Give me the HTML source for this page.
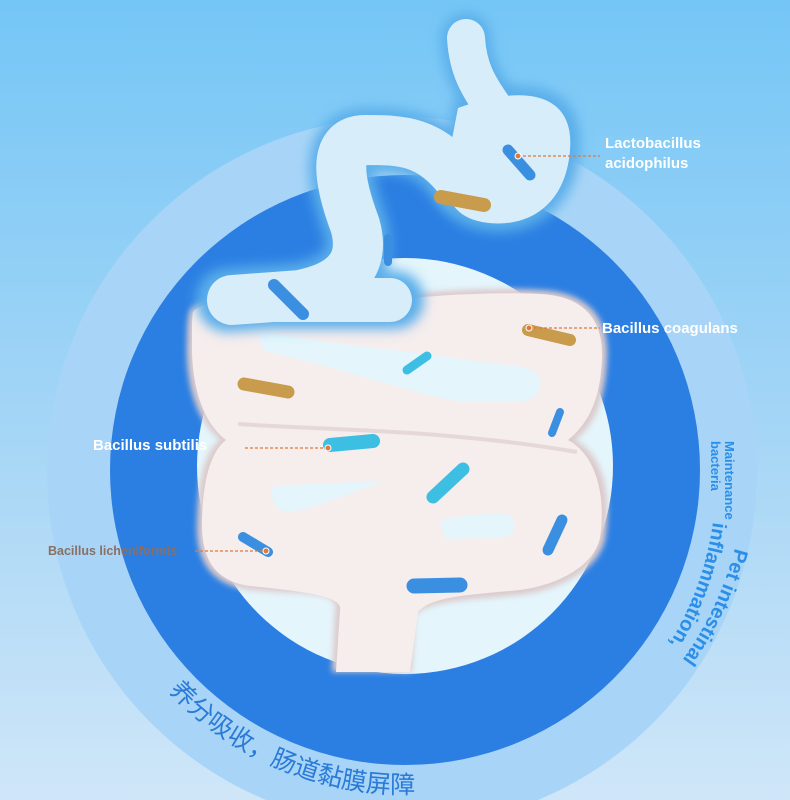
<!DOCTYPE html>
<html><head><meta charset="utf-8"><style>
html,body{margin:0;padding:0}
body{width:790px;height:800px;overflow:hidden;background:linear-gradient(180deg,#74c6f6 0%,#a6d6f6 55%,#cfe6f8 100%);}
svg{display:block}
</style></head><body>
<svg width="790" height="800" viewBox="0 0 790 800" xmlns="http://www.w3.org/2000/svg">
<defs>
<filter id="blur6" x="-20%" y="-20%" width="140%" height="140%"><feGaussianBlur stdDeviation="6"/></filter>
<filter id="blur3" x="-20%" y="-20%" width="140%" height="140%"><feGaussianBlur stdDeviation="3"/></filter>
<path id="arcCn" d="M 166 688 A 322 322 0 0 0 520 772"/>
<path id="arcPet1" d="M 735 548 A 334 334 0 0 1 600 740"/>
<path id="arcPet2" d="M 713 522 A 313 313 0 0 1 590 730"/>
</defs>
<circle cx="402" cy="472" r="355" fill="#a8d5f7"/>
<circle cx="405" cy="470" r="295" fill="#2b7fe2"/>
<circle cx="405" cy="466" r="208" fill="#e4f5fb"/>

<!-- intestine -->
<path d="M190,310 C200,295 250,295 270,312 C350,300 450,285 540,290 C590,292 610,320 607,360 C605,400 595,425 575,440 C605,455 612,500 605,540 C598,570 560,590 520,595 C470,600 430,600 415,615 L412,672 L332,672 L335,610 C340,590 300,595 250,590 C210,585 195,560 197,520 C198,480 205,450 220,440 C195,420 185,380 187,340 C187,325 188,315 190,310 Z" fill="#dccbcc" filter="url(#blur3)"/>
<path d="M193,312 C203,299 250,299 270,316 C350,304 450,290 540,294 C586,296 604,322 602,360 C600,398 590,422 568,440 C598,456 606,500 600,538 C594,566 558,585 520,590 C470,595 432,596 418,612 L410,672 L336,672 L340,610 C344,596 300,591 250,586 C214,581 201,558 202,520 C203,482 210,452 226,440 C200,420 191,380 192,340 C192,326 192,318 193,312 Z" fill="#f6eded"/>
<g fill="#e4f5fb">
<path d="M265,333 C340,345 420,352 480,362 C515,366 535,366 540,378 C542,394 532,402 512,402 L460,402 C400,390 320,362 268,352 C258,348 258,336 265,333 Z"/>
<path d="M272,487 C300,484 350,482 382,482 C345,495 315,508 292,512 C276,513 270,500 272,487 Z"/>
<path d="M440,520 C470,515 495,512 510,515 C518,522 515,535 505,537 L445,539 Z"/>
</g>
<path d="M238,424 C330,430 450,430 577,452" stroke="#e6d8d9" stroke-width="4" fill="none"/>

<!-- stomach -->
<g fill="none" stroke-linecap="round" stroke-linejoin="round">
<g stroke="#5aaeea" filter="url(#blur6)">
<path d="M466,38 C468,70 478,85 495,110" stroke-width="50"/>
<path d="M460,180 C430,140 400,140 365,140 C330,140 340,185 355,225 C365,260 350,285 300,295 L228,300" stroke-width="64"/>
<path d="M228,300 L395,300" stroke-width="58"/>
</g>
<path d="M455,100 C520,75 585,80 580,150 C576,210 530,240 480,230 C440,222 430,190 440,160 Z" fill="#5aaeea" stroke="none" filter="url(#blur6)"/>
<g stroke="#d8edfa">
<path d="M466,38 C468,70 478,85 495,110" stroke-width="38"/>
<path d="M460,180 C430,140 400,140 365,140 C330,140 340,185 355,225 C365,260 350,285 300,295 L232,300" stroke-width="50"/>
<path d="M232,300 L390,300" stroke-width="44"/>
</g>
<path d="M458,108 C520,85 575,90 570,150 C566,205 528,230 482,222 C450,216 440,190 448,160 Z" fill="#d8edfa" stroke="none"/>
</g>

<!-- bacteria -->
<g stroke-linecap="round">
<g stroke="#3b8fe0"><line x1="508" y1="150" x2="530" y2="175" stroke-width="11"/><line x1="388" y1="238" x2="388" y2="262" stroke-width="8"/><line x1="274" y1="285" x2="303" y2="314" stroke-width="12"/><line x1="560" y1="412" x2="552" y2="433" stroke-width="8"/><line x1="243" y1="537" x2="268" y2="552" stroke-width="10"/><line x1="562" y1="520" x2="548" y2="550" stroke-width="11"/><line x1="414" y1="586" x2="460" y2="585" stroke-width="15"/></g>
<g stroke="#c99b4c"><line x1="441" y1="197" x2="484" y2="205" stroke-width="14"/><line x1="528" y1="330" x2="570" y2="340" stroke-width="12"/><line x1="244" y1="384" x2="288" y2="392" stroke-width="13"/></g>
<g stroke="#3cbfe2"><line x1="407" y1="370" x2="427" y2="356" stroke-width="9"/><line x1="330" y1="445" x2="373" y2="441" stroke-width="14"/><line x1="433" y1="497" x2="463" y2="469" stroke-width="13"/></g>
</g>

<!-- leader lines -->
<g stroke="#e07a3a" stroke-width="1.2" stroke-dasharray="3,2" fill="none">
<line x1="518" y1="156" x2="600" y2="156"/><line x1="529" y1="328" x2="600" y2="328"/><line x1="245" y1="448" x2="328" y2="448"/><line x1="195" y1="551" x2="266" y2="551"/>
</g>
<g fill="#e07a3a" stroke="#fff" stroke-width="1"><circle cx="518" cy="156" r="3"/><circle cx="529" cy="328" r="3"/><circle cx="328" cy="448" r="3"/><circle cx="266" cy="551" r="3"/></g>

<g font-family="Liberation Sans, sans-serif" font-weight="bold">
<text x="605" y="148" font-size="15" fill="#fff">Lactobacillus</text>
<text x="605" y="168" font-size="15" fill="#fff">acidophilus</text>
<text x="602" y="333" font-size="15" fill="#fff">Bacillus coagulans</text>
<text x="93" y="450" font-size="15" fill="#fff">Bacillus subtilis</text>
<text x="48" y="555" font-size="12.5" fill="#8a6f62">Bacillus licheniformis</text>
<g transform="translate(725,441) rotate(90)" font-size="13" fill="#2b8fe8"><text x="0" y="0">Maintenance</text><text x="0" y="14">bacteria</text></g>
<text font-size="20" fill="#2b8fe8"><textPath href="#arcPet1">Pet intestinal</textPath></text>
<text font-size="20" fill="#2b8fe8"><textPath href="#arcPet2">inflammation,</textPath></text>
</g>
<text font-family="Liberation Sans, 'Noto Sans CJK SC', sans-serif" font-size="25" fill="#2a7ad8"><textPath href="#arcCn" startOffset="4">养分吸收，肠道黏膜屏障</textPath></text>
</svg>
</body></html>
